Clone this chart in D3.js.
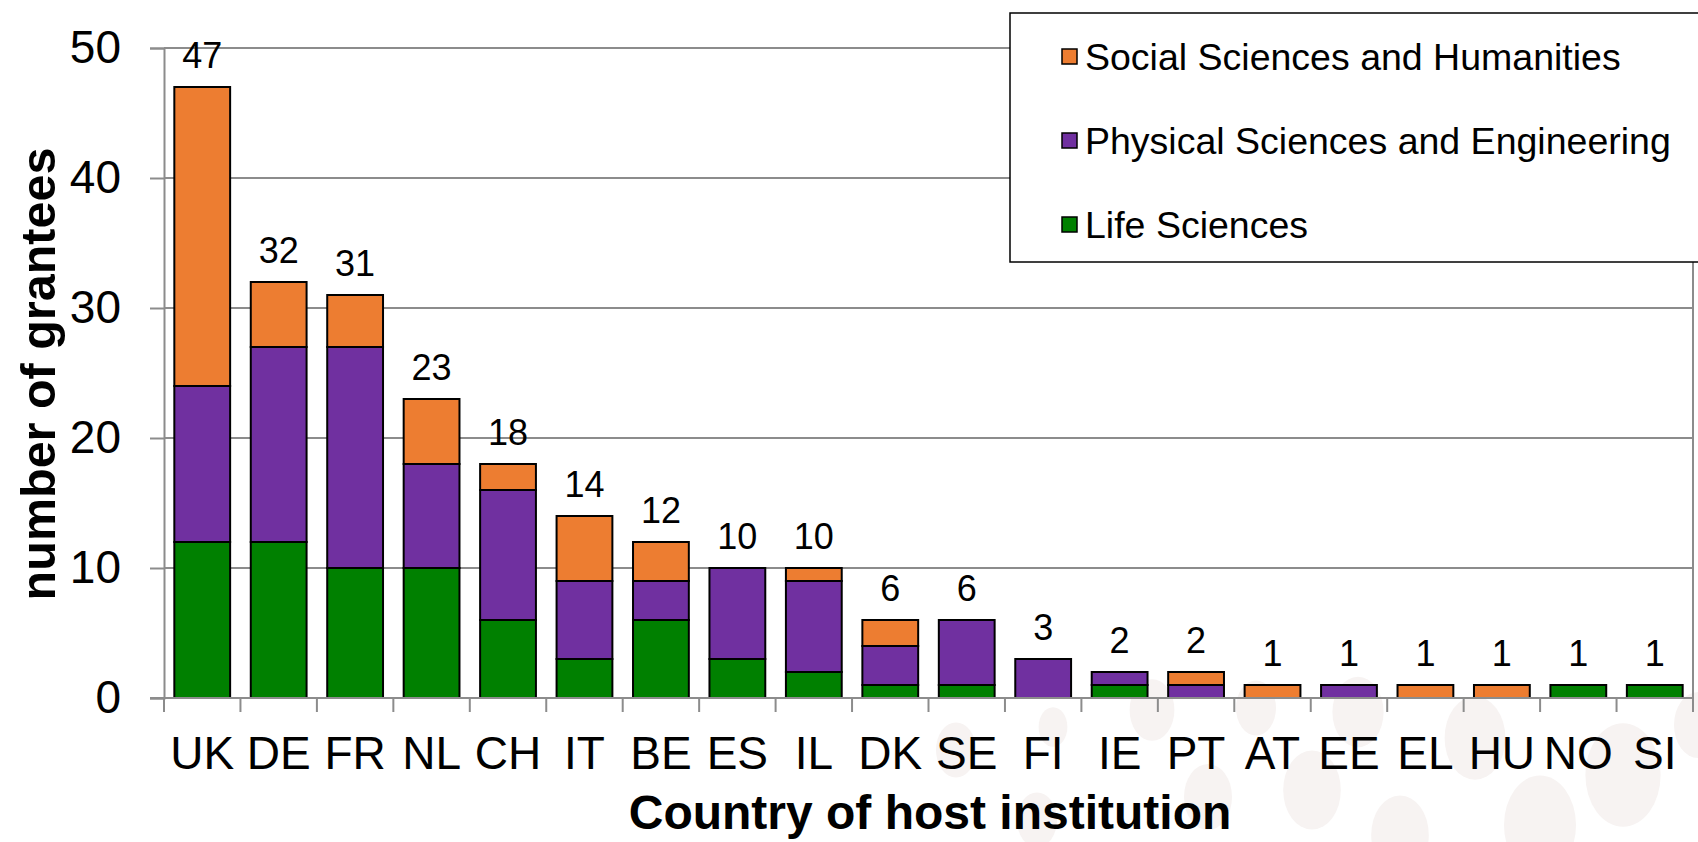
<!DOCTYPE html>
<html>
<head>
<meta charset="utf-8">
<script src="https://cdn.jsdelivr.net/npm/d3@7"></script>
<style>
  body { margin: 0; background: #fff; }
  svg { display: block; font-family: Arial, "Liberation Sans", sans-serif; }
</style>
</head>
<body>
<div id="chart"></div>
<script>
// data
const countries = ['UK', 'DE', 'FR', 'NL', 'CH', 'IT', 'BE', 'ES', 'IL', 'DK', 'SE', 'FI', 'IE', 'PT', 'AT', 'EE', 'EL', 'HU', 'NO', 'SI'];
const lifeSciences = [12, 12, 10, 10, 6, 3, 6, 3, 2, 1, 1, 0, 1, 0, 0, 0, 0, 0, 1, 1];
const physicalSciences = [12, 15, 17, 8, 10, 6, 3, 7, 7, 3, 5, 3, 1, 1, 0, 1, 0, 0, 0, 0];
const socialSciences = [23, 5, 4, 5, 2, 5, 3, 0, 1, 2, 0, 0, 0, 1, 1, 0, 1, 1, 0, 0];
const seriesNames = ['Life Sciences', 'Physical Sciences and Engineering', 'Social Sciences and Humanities'];
const yTicks = [0, 10, 20, 30, 40, 50];

// dimensions
const WIDTH = 1698;
const HEIGHT = 842;
const MARGIN_TOP = 48;
const MARGIN_LEFT = 164;
const PLOT_RIGHT = 1693;
const PLOT_BOTTOM = 698;

const colors = {
  'Life Sciences': '#008000',
  'Physical Sciences and Engineering': '#7030a0',
  'Social Sciences and Humanities': '#ed7d31',
};
const GRID = '#8c8c8c';

const table = countries.map((c, i) => ({
  country: c,
  'Life Sciences': lifeSciences[i],
  'Physical Sciences and Engineering': physicalSciences[i],
  'Social Sciences and Humanities': socialSciences[i],
}));
const stacked = d3.stack().keys(seriesNames)(table);

const scaleX = d3.scaleBand().domain(countries).range([MARGIN_LEFT, PLOT_RIGHT]).paddingInner(0.27).paddingOuter(0.135);
const scaleY = d3.scaleLinear().domain([0, 50]).range([PLOT_BOTTOM, MARGIN_TOP]);

const $svg = d3.select('#chart').append('svg').attr('width', WIDTH).attr('height', HEIGHT);

// faint background dots from the slide template
const dots = [
  [956, 750, 25], [1037, 820, 25], [1053, 727, 18], [1152, 710, 28], [1208, 797, 30],
  [1256, 708, 25], [1312, 790, 36], [1358, 712, 32], [1400, 835, 36], [1475, 738, 38],
  [1540, 825, 45], [1623, 775, 47], [1698, 725, 30],
];
$svg.append('g').selectAll('ellipse').data(dots).join('ellipse')
  .attr('cx', (d) => d[0]).attr('cy', (d) => d[1])
  .attr('rx', (d) => d[2] * 0.8).attr('ry', (d) => d[2] * 1.1)
  .attr('fill', '#f7f3f2');

// gridlines
const $grid = $svg.append('g').attr('class', 'g-grid');
$grid.selectAll('line').data(yTicks.filter((d) => d > 0)).join('line')
  .attr('x1', MARGIN_LEFT).attr('x2', PLOT_RIGHT)
  .attr('y1', (d) => scaleY(d)).attr('y2', (d) => scaleY(d))
  .attr('stroke', GRID).attr('stroke-width', 2);
$grid.append('line')
  .attr('x1', PLOT_RIGHT).attr('x2', PLOT_RIGHT)
  .attr('y1', MARGIN_TOP).attr('y2', PLOT_BOTTOM)
  .attr('stroke', GRID).attr('stroke-width', 2);

// y axis
const $yAxis = $svg.append('g').attr('transform', `translate(${MARGIN_LEFT},0)`)
  .call(d3.axisLeft(scaleY).tickValues(yTicks).tickSize(14).tickPadding(29));
$yAxis.select('.domain').attr('stroke', GRID).attr('stroke-width', 2);
$yAxis.selectAll('.tick line').attr('stroke', GRID).attr('stroke-width', 2);
$yAxis.selectAll('.tick text').attr('font-size', 46).attr('fill', '#000')
  .attr('font-family', 'Arial, "Liberation Sans", sans-serif');

// bars
const $vis = $svg.append('g').attr('class', 'g-vis');
$vis.selectAll('g').data(stacked).join('g')
  .attr('fill', (d) => colors[d.key])
  .selectAll('rect')
  .data((d) => d.filter((v) => v[1] > v[0]))
  .join('rect')
  .attr('x', (d) => scaleX(d.data.country))
  .attr('width', scaleX.bandwidth())
  .attr('y', (d) => scaleY(d[1]))
  .attr('height', (d) => scaleY(d[0]) - scaleY(d[1]))
  .attr('stroke', '#000')
  .attr('stroke-width', 2);

// x axis
const $xAxis = $svg.append('g').attr('transform', `translate(0,${PLOT_BOTTOM})`);
$xAxis.append('line').attr('x1', MARGIN_LEFT - 14).attr('x2', PLOT_RIGHT)
  .attr('stroke', GRID).attr('stroke-width', 2);
const step = scaleX.step();
$xAxis.selectAll('.tickmark').data(d3.range(countries.length + 1)).join('line')
  .attr('class', 'tickmark')
  .attr('x1', (i) => MARGIN_LEFT + i * step).attr('x2', (i) => MARGIN_LEFT + i * step)
  .attr('y1', 0).attr('y2', 14)
  .attr('stroke', GRID).attr('stroke-width', 2);
$xAxis.selectAll('.label').data(countries).join('text')
  .attr('class', 'label')
  .attr('x', (d) => scaleX(d) + scaleX.bandwidth() / 2)
  .attr('y', 71)
  .attr('text-anchor', 'middle')
  .attr('font-size', 46)
  .text((d) => d);

// totals
$svg.append('g').selectAll('text').data(table).join('text')
  .attr('x', (d) => scaleX(d.country) + scaleX.bandwidth() / 2)
  .attr('y', (d) => scaleY(d3.sum(seriesNames, (k) => d[k])) - 19)
  .attr('text-anchor', 'middle')
  .attr('font-size', 36)
  .text((d) => d3.sum(seriesNames, (k) => d[k]));

// axis titles
$svg.append('text')
  .attr('transform', 'translate(55,374) rotate(-90)')
  .attr('text-anchor', 'middle')
  .attr('font-size', 48.5)
  .attr('font-weight', 'bold')
  .text('number of grantees');
$svg.append('text')
  .attr('x', 930).attr('y', 829)
  .attr('text-anchor', 'middle')
  .attr('font-size', 48)
  .attr('font-weight', 'bold')
  .text('Country of host institution');

// legend
const $legend = $svg.append('g').attr('transform', 'translate(1010,13)');
$legend.append('rect').attr('width', 700).attr('height', 249)
  .attr('fill', '#fff').attr('stroke', '#000').attr('stroke-width', 1.5);
const legendItems = seriesNames.slice().reverse();
const $item = $legend.selectAll('.item').data(legendItems).join('g')
  .attr('class', 'item')
  .attr('transform', (d, i) => `translate(0,${43 + i * 84})`);
$item.append('rect').attr('x', 52).attr('y', -7).attr('width', 15).attr('height', 15)
  .attr('fill', (d) => colors[d]).attr('stroke', '#000').attr('stroke-width', 1.5);
$item.append('text').attr('x', 75).attr('y', 14)
  .attr('font-size', 37.5)
  .text((d) => d);
</script>
</body>
</html>
